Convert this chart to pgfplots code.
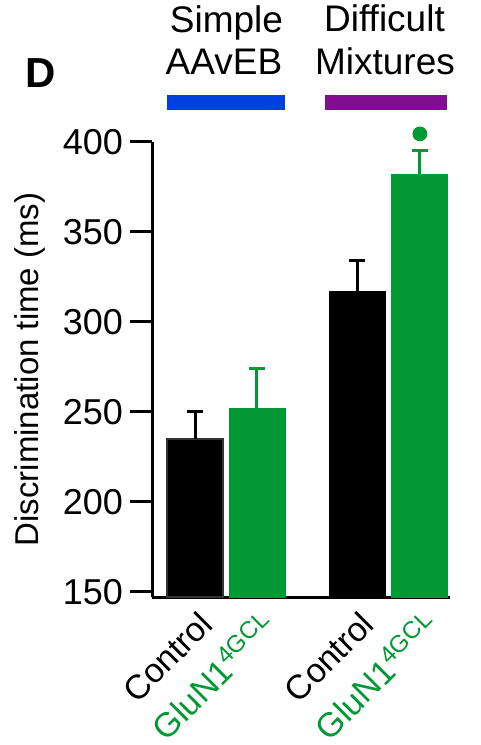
\documentclass[border=0pt]{standalone}
\usepackage{pgfplots}
\pgfplotsset{compat=1.18}
\usepackage{fontspec}
\setmainfont{Liberation Sans}
\definecolor{bargreen}{RGB}{0,153,51}
\definecolor{barblue}{RGB}{0,64,224}
\definecolor{barpurple}{RGB}{128,14,144}
\newcommand{\gsup}{\raisebox{0.35em}{\fontsize{12}{14}\selectfont 4GCL}}
\newcommand{\glabel}{\raisebox{-2.1pt}{\color{bargreen}GluN1\gsup}\hspace{-1.2pt}}
\begin{document}
\begin{tikzpicture}[x=0.5pt,y=0.5pt]
\path[use as bounding box] (0,0) rectangle (481,745);
\begin{axis}[
  at={(76pt,74pt)}, anchor=south west,
  scale only axis, width=149pt, height=227.5pt,
  xmin=0.293, xmax=5.14, ymin=147.2, ymax=400,
  axis lines=left,
  axis line style={line width=1.5pt,-},
  ytick={150,200,250,300,350,400},
  tick align=outside,
  major tick length=11pt,
  y tick style={line width=1.5pt,black},
  x tick style={draw=none},
  xtick={1,2,3.63,4.65},
  xticklabels={Control,\glabel,Control,\glabel},
  xticklabel style={rotate=45,anchor=base east,inner sep=0pt,font=\fontsize{17}{20}\selectfont,xshift=4.25pt,yshift=-9.5pt},
  yticklabel style={font=\fontsize{18}{21}\selectfont},
  /pgf/number format/assume math mode=true,
  ylabel={Discrimination time (ms)},
  ylabel style={at={(rel axis cs:-0.41,0.5)},anchor=center,font=\fontsize{16.5}{20}\selectfont},
  ybar, bar width=28pt, bar shift=0pt,
]
\addplot[fill=black,draw=black!80,line width=1pt,
  error bars/.cd, y dir=plus, y explicit,
  error bar style={line width=1.5pt,black},
  error mark options={rotate=90,mark size=4pt,line width=1.5pt,black}]
  coordinates {(1,235) +- (0,15)};
\addplot[fill=bargreen,draw=bargreen,
  error bars/.cd, y dir=plus, y explicit,
  error bar style={line width=1.5pt,bargreen},
  error mark options={rotate=90,mark size=4pt,line width=1.5pt,bargreen}]
  coordinates {(2,252) +- (0,22)};
\addplot[fill=black,draw=black,
  error bars/.cd, y dir=plus, y explicit,
  error bar style={line width=1.5pt,black},
  error mark options={rotate=90,mark size=4pt,line width=1.5pt,black}]
  coordinates {(3.63,317) +- (0,17)};
\addplot[fill=bargreen,draw=bargreen,
  error bars/.cd, y dir=plus, y explicit,
  error bar style={line width=1.5pt,bargreen},
  error mark options={rotate=90,mark size=4pt,line width=1.5pt,bargreen}]
  coordinates {(4.65,382) +- (0,13)};
\end{axis}
\begin{axis}[
  at={(76pt,74pt)}, anchor=south west,
  scale only axis, width=149pt, height=227.5pt,
  xmin=0.293, xmax=5.14, ymin=147.2, ymax=400,
  hide axis, clip=false,
]
\addplot[only marks, mark=*, mark size=3.5pt, bargreen] coordinates {(4.65,404.5)};
\end{axis}
\fill[barblue] (167,745-95) rectangle (285,745-110);
\fill[barpurple] (325,745-95) rectangle (447,745-110);
\node[anchor=base,inner sep=0pt,font=\fontsize{18.5}{22}\selectfont] at (226.5,745-33) {Simple};
\node[anchor=base,inner sep=0pt,font=\fontsize{18.5}{22}\selectfont] at (224,745-75) {AAvEB};
\node[anchor=base,inner sep=0pt,font=\fontsize{18.5}{22}\selectfont] at (384.5,745-32) {Difficult};
\node[anchor=base,inner sep=0pt,font=\fontsize{18.5}{22}\selectfont] at (385,745-75) {Mixtures};
\node[anchor=base,inner sep=0pt,font=\fontsize{21}{24}\selectfont\bfseries] at (41,745-88) {D};
\end{tikzpicture}
\end{document}
